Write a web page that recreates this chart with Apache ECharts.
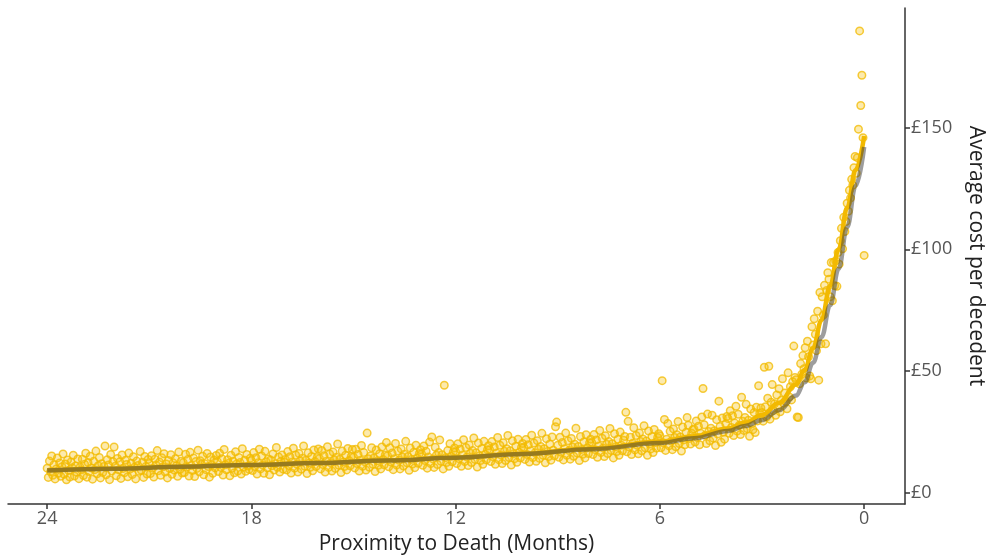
<!DOCTYPE html>
<html>
<head>
<meta charset="utf-8">
<title>Average cost per decedent</title>
<script src="https://cdn.jsdelivr.net/npm/echarts@6/dist/echarts.min.js"></script>
<style>
    html, body { margin: 0; padding: 0; background: #fff; }
    #chart { width: 995px; height: 560px; }
</style>
</head>
<body>
<div id="chart"></div>
<script>
//----------------------------------------------------------------------------------
// data: daily average cost, oldest day (24 months before death) first
//----------------------------------------------------------------------------------

var DAYS_PER_MONTH = 30;

// months 24 -> 12
var costYearOne = [
    10.2, 6.4, 13.1, 8.7, 15.2, 7.3, 11.6, 5.8, 9.9, 14.4, 8.1, 12.3, 6.9, 10.8, 16.0, 7.7, 11.9, 5.4, 13.6, 9.2, 6.6, 12.7, 10.4, 15.5, 7.0, 11.1, 8.5, 14.0, 5.9, 10.6,
    9.4, 13.9, 7.2, 11.8, 16.3, 6.5, 12.5, 8.8, 15.1, 10.3, 5.7, 13.0, 9.6, 17.2, 7.9, 11.2, 14.6, 6.2, 12.0, 8.4, 10.9, 19.3, 7.5, 13.7, 11.5, 5.5, 15.8, 9.0, 12.9, 18.9,
    11.0, 7.1, 14.2, 9.5, 12.8, 6.0, 15.6, 10.1, 8.3, 13.4, 11.7, 6.7, 16.4, 9.8, 12.2, 7.6, 14.9, 10.6, 5.8, 13.1, 11.3, 8.9, 17.0, 9.3, 12.6, 6.4, 15.0, 10.9, 7.8, 13.8,
    12.1, 8.0, 15.3, 10.2, 6.6, 13.9, 11.5, 17.4, 9.1, 12.7, 7.3, 14.5, 10.8, 16.1, 8.6, 11.9, 6.2, 13.3, 10.0, 15.7, 7.7, 12.4, 9.4, 14.1, 11.2, 6.9, 16.8, 9.7, 13.0, 8.2,
    12.5, 8.4, 15.9, 10.6, 13.8, 7.0, 16.7, 11.3, 9.2, 14.4, 6.8, 12.9, 10.1, 17.6, 8.7, 13.2, 11.8, 15.1, 7.5, 12.0, 9.6, 16.2, 10.9, 6.5, 14.8, 11.5, 8.1, 13.6, 10.3, 15.4,
    12.9, 8.8, 16.3, 10.5, 14.1, 7.4, 17.9, 11.6, 9.5, 13.7, 12.2, 7.1, 15.5, 10.2, 13.0, 8.3, 16.9, 11.9, 9.0, 14.6, 12.5, 7.8, 18.2, 10.7, 13.4, 8.9, 15.8, 11.1, 9.7, 14.3,
    13.3, 9.2, 16.6, 10.9, 14.5, 7.8, 12.4, 18.0, 9.9, 15.2, 11.5, 8.1, 17.1, 12.8, 10.3, 14.0, 7.5, 13.6, 11.2, 16.0, 9.4, 12.0, 18.7, 10.6, 14.8, 8.6, 13.0, 15.6, 9.8, 12.6,
    13.8, 9.5, 17.0, 11.3, 14.9, 8.2, 12.7, 18.4, 10.2, 15.6, 11.9, 8.6, 16.2, 13.1, 9.8, 14.3, 19.3, 11.0, 13.5, 8.0, 16.5, 12.3, 10.6, 15.0, 9.1, 17.7, 12.9, 10.9, 14.6, 18.1,
    14.2, 9.9, 17.5, 11.7, 15.3, 8.6, 13.0, 19.0, 10.5, 16.0, 12.4, 9.0, 16.8, 13.6, 10.1, 14.7, 20.1, 11.4, 13.9, 8.4, 17.2, 12.7, 10.9, 15.5, 9.5, 18.3, 13.3, 11.2, 15.0, 17.9,
    14.7, 10.3, 18.0, 12.1, 15.8, 9.0, 13.5, 19.5, 11.0, 16.6, 12.8, 9.4, 24.6, 14.1, 10.6, 15.2, 18.6, 11.8, 14.4, 8.8, 17.7, 13.2, 11.4, 16.1, 9.9, 18.9, 13.8, 11.6, 15.6, 20.7,
    15.3, 10.8, 18.6, 12.7, 16.4, 9.6, 14.1, 20.3, 11.5, 17.2, 13.4, 9.9, 18.1, 14.8, 11.1, 15.9, 21.2, 12.4, 15.0, 9.3, 18.5, 13.8, 11.9, 16.7, 10.4, 19.6, 14.4, 12.2, 16.2, 17.8,
    16.0, 11.4, 19.3, 13.3, 17.1, 10.2, 14.8, 20.9, 12.1, 23.0, 14.0, 10.5, 18.8, 15.5, 11.7, 16.6, 21.8, 13.0, 15.7, 9.9, 44.2, 14.5, 12.5, 17.4, 11.0, 20.2, 15.1, 12.8, 16.9, 18.5
];

// months 12 -> 3
var costYearTwo = [
    16.9, 12.1, 20.2, 14.1, 18.0, 11.0, 15.6, 21.9, 12.9, 18.7, 14.8, 11.3, 19.7, 16.3, 12.5, 17.4, 22.6, 13.8, 16.5, 10.7, 20.5, 15.3, 13.3, 18.3, 11.8, 21.2, 15.9, 13.6, 17.8, 19.4,
    17.8, 12.9, 21.1, 14.9, 18.9, 11.8, 16.4, 22.8, 13.7, 19.6, 15.6, 12.1, 20.6, 17.1, 13.3, 18.2, 23.6, 14.6, 17.3, 11.5, 21.4, 16.1, 14.1, 19.2, 12.6, 22.1, 16.7, 14.4, 18.7, 20.3,
    18.7, 13.8, 22.0, 15.8, 19.8, 12.7, 17.3, 23.7, 14.6, 20.5, 16.5, 13.0, 21.5, 18.0, 14.2, 19.1, 24.5, 15.5, 18.2, 12.4, 22.3, 17.0, 15.0, 20.1, 13.5, 23.0, 17.6, 15.3, 27.2, 29.1,
    19.6, 14.7, 22.9, 16.7, 20.7, 13.6, 18.2, 24.6, 15.5, 21.4, 17.4, 13.9, 22.4, 18.9, 15.1, 20.0, 26.6, 16.4, 19.1, 13.3, 23.2, 17.9, 15.9, 21.0, 14.4, 23.9, 18.5, 16.2, 20.6, 22.1,
    20.7, 15.8, 24.0, 17.8, 21.8, 14.7, 19.3, 25.7, 16.6, 22.5, 18.5, 15.0, 23.5, 20.0, 16.2, 21.1, 26.5, 17.5, 20.2, 14.4, 24.3, 19.0, 17.0, 22.1, 15.5, 25.0, 19.6, 17.3, 21.7, 23.2,
    33.1, 16.9, 29.4, 18.9, 22.9, 15.8, 20.4, 26.8, 17.7, 23.6, 19.6, 16.1, 24.6, 21.1, 17.3, 22.2, 27.6, 18.6, 21.3, 15.5, 25.4, 20.1, 18.1, 23.2, 16.6, 26.1, 20.7, 18.4, 22.8, 24.3,
    23.5, 18.6, 46.1, 20.6, 30.2, 17.5, 22.1, 28.5, 19.4, 25.3, 21.3, 17.8, 26.3, 22.8, 19.0, 23.9, 29.3, 20.3, 23.0, 17.2, 27.1, 21.8, 19.8, 24.9, 31.0, 27.8, 22.4, 20.1, 24.5, 26.0,
    26.3, 20.9, 29.6, 22.8, 27.4, 19.8, 24.5, 31.2, 42.9, 28.0, 23.7, 20.3, 32.4, 25.2, 21.4, 26.6, 31.9, 22.5, 25.6, 19.5, 30.1, 24.2, 37.7, 27.3, 20.8, 30.8, 25.0, 22.1, 28.4, 31.4,
    30.6, 24.5, 33.8, 26.9, 31.7, 23.6, 28.7, 35.6, 25.4, 32.3, 27.8, 24.0, 39.3, 29.4, 25.7, 31.0, 36.4, 26.4, 29.9, 23.3, 34.5, 28.3, 26.0, 33.0, 24.8, 35.2, 29.6, 44.0, 32.6, 34.9
];

// last 3 months, ending on the day of death
var costLastMonths = [
    33.0, 29.5, 51.6, 35.4, 31.2, 38.9, 52.0, 30.3, 37.2, 44.5, 33.8, 36.6, 31.9, 40.2, 35.0, 42.8, 33.3, 38.1, 46.9, 36.8, 41.0, 37.5, 34.6, 49.3, 39.4, 43.6, 38.2, 45.7, 60.3, 47.4,
    46.5, 31.2, 31.0, 44.8, 53.1, 48.7, 56.4, 51.0, 59.6, 47.2, 62.3, 55.9, 48.0, 46.9, 68.2, 60.7, 71.5, 65.1, 58.4, 74.6, 46.3, 82.3, 61.2, 80.5, 73.0, 85.2, 61.2, 83.1, 90.4, 87.7,
    80.5, 94.6, 78.9, 94.6, 85.0, 95.3, 84.8, 98.7, 93.9, 103.5, 108.6, 100.2, 113.1, 107.3, 111.4, 118.9, 115.6, 124.2, 121.0, 128.7, 126.3, 133.5, 138.1, 131.2, 137.6, 149.3, 189.6, 159.0, 171.4, 145.8,
    97.5
];

// fitted curves
var fitMonths = [24, 22, 20, 18, 16, 14, 12, 10, 8, 6, 5, 4, 3.5, 3, 2.5, 2, 1.75, 1.5, 1.25, 1, 0.75, 0.5, 0.25, 0];
var fitGold   = [9.3, 10.1, 10.9, 11.6, 12.4, 13.4, 14.6, 16.2, 18.3, 21.0, 23.3, 26.5, 28.8, 32.0, 37.0, 44.5, 50.5, 59.5, 71.0, 85.0, 100.0, 117.0, 132.5, 146.5];
var fitGrey   = [9.2, 10.0, 10.8, 11.5, 12.3, 13.3, 14.5, 16.0, 18.0, 20.5, 22.5, 25.5, 27.5, 30.0, 34.0, 40.0, 45.5, 53.5, 64.0, 77.0, 92.0, 109.0, 126.0, 142.0];

// axis ticks
var xTicks = [24, 18, 12, 6, 0];
var yTicks = [0, 50, 100, 150];

//----------------------------------------------------------------------------------
// build series
//----------------------------------------------------------------------------------

function buildPoints() {
    var cost = costYearOne.concat(costYearTwo, costLastMonths);
    var n = cost.length;
    var pts = [];
    for (var i = 0; i < n; i++) {
        // day index counted back from death, shown in months
        pts.push([(n - 1 - i) / DAYS_PER_MONTH, cost[i]]);
    }
    return pts;
}

function buildLine(vals) {
    var out = [];
    for (var i = 0; i < fitMonths.length; i++) {
        out.push([fitMonths[i], vals[i]]);
    }
    return out;
}

var FONT = '"Open Sans", "Noto Sans", sans-serif';

var chart = echarts.init(document.getElementById('chart'), null, { renderer: 'canvas' });

var option = {
    animation: false,
    backgroundColor: '#ffffff',
    grid: {
        left: 8,
        right: 90,
        top: 8,
        bottom: 55
    },
    xAxis: {
        type: 'value',
        inverse: true,
        min: -1.2,
        max: 25.15,
        name: 'Proximity to Death (Months)',
        nameLocation: 'middle',
        nameGap: 30,
        nameTextStyle: { color: '#222', fontSize: 21, fontFamily: FONT },
        axisLine: { onZero: false, lineStyle: { color: '#333', width: 1.5 } },
        axisTick: { show: true, length: 5, customValues: xTicks, lineStyle: { color: '#333', width: 1.5 } },
        axisLabel: { customValues: xTicks, color: '#555', fontSize: 18, fontFamily: FONT, margin: 6 },
        splitLine: { show: false }
    },
    yAxis: {
        type: 'value',
        position: 'right',
        min: -4.5,
        max: 199,
        name: 'Average cost per decedent',
        nameLocation: 'middle',
        nameRotate: -90,
        nameGap: 60,
        nameTextStyle: { color: '#222', fontSize: 21, fontFamily: FONT },
        axisLine: { show: true, onZero: false, lineStyle: { color: '#333', width: 1.5 } },
        axisTick: { show: true, length: 5, customValues: yTicks, lineStyle: { color: '#333', width: 1.5 } },
        axisLabel: {
            customValues: yTicks,
            color: '#555',
            fontSize: 18,
            fontFamily: FONT,
            margin: 6,
            formatter: function(v) { return '£' + v; }
        },
        splitLine: { show: false }
    },
    series: [{
        type: 'scatter',
        data: buildPoints(),
        symbolSize: 7.5,
        z: 1,
        itemStyle: {
            color: 'rgba(246, 190, 0, 0.4)',
            borderColor: 'rgba(242, 186, 0, 0.95)',
            borderWidth: 1.5
        }
    }, {
        type: 'line',
        data: buildLine(fitGold),
        smooth: 0.4,
        smoothMonotone: 'x',
        showSymbol: false,
        z: 3,
        lineStyle: { color: '#F2B900', width: 4.5 }
    }, {
        type: 'line',
        data: buildLine(fitGrey),
        smooth: 0.4,
        smoothMonotone: 'x',
        showSymbol: false,
        z: 4,
        lineStyle: { color: 'rgba(60, 60, 60, 0.5)', width: 4.5 }
    }]
};

chart.setOption(option);
</script>
</body>
</html>
